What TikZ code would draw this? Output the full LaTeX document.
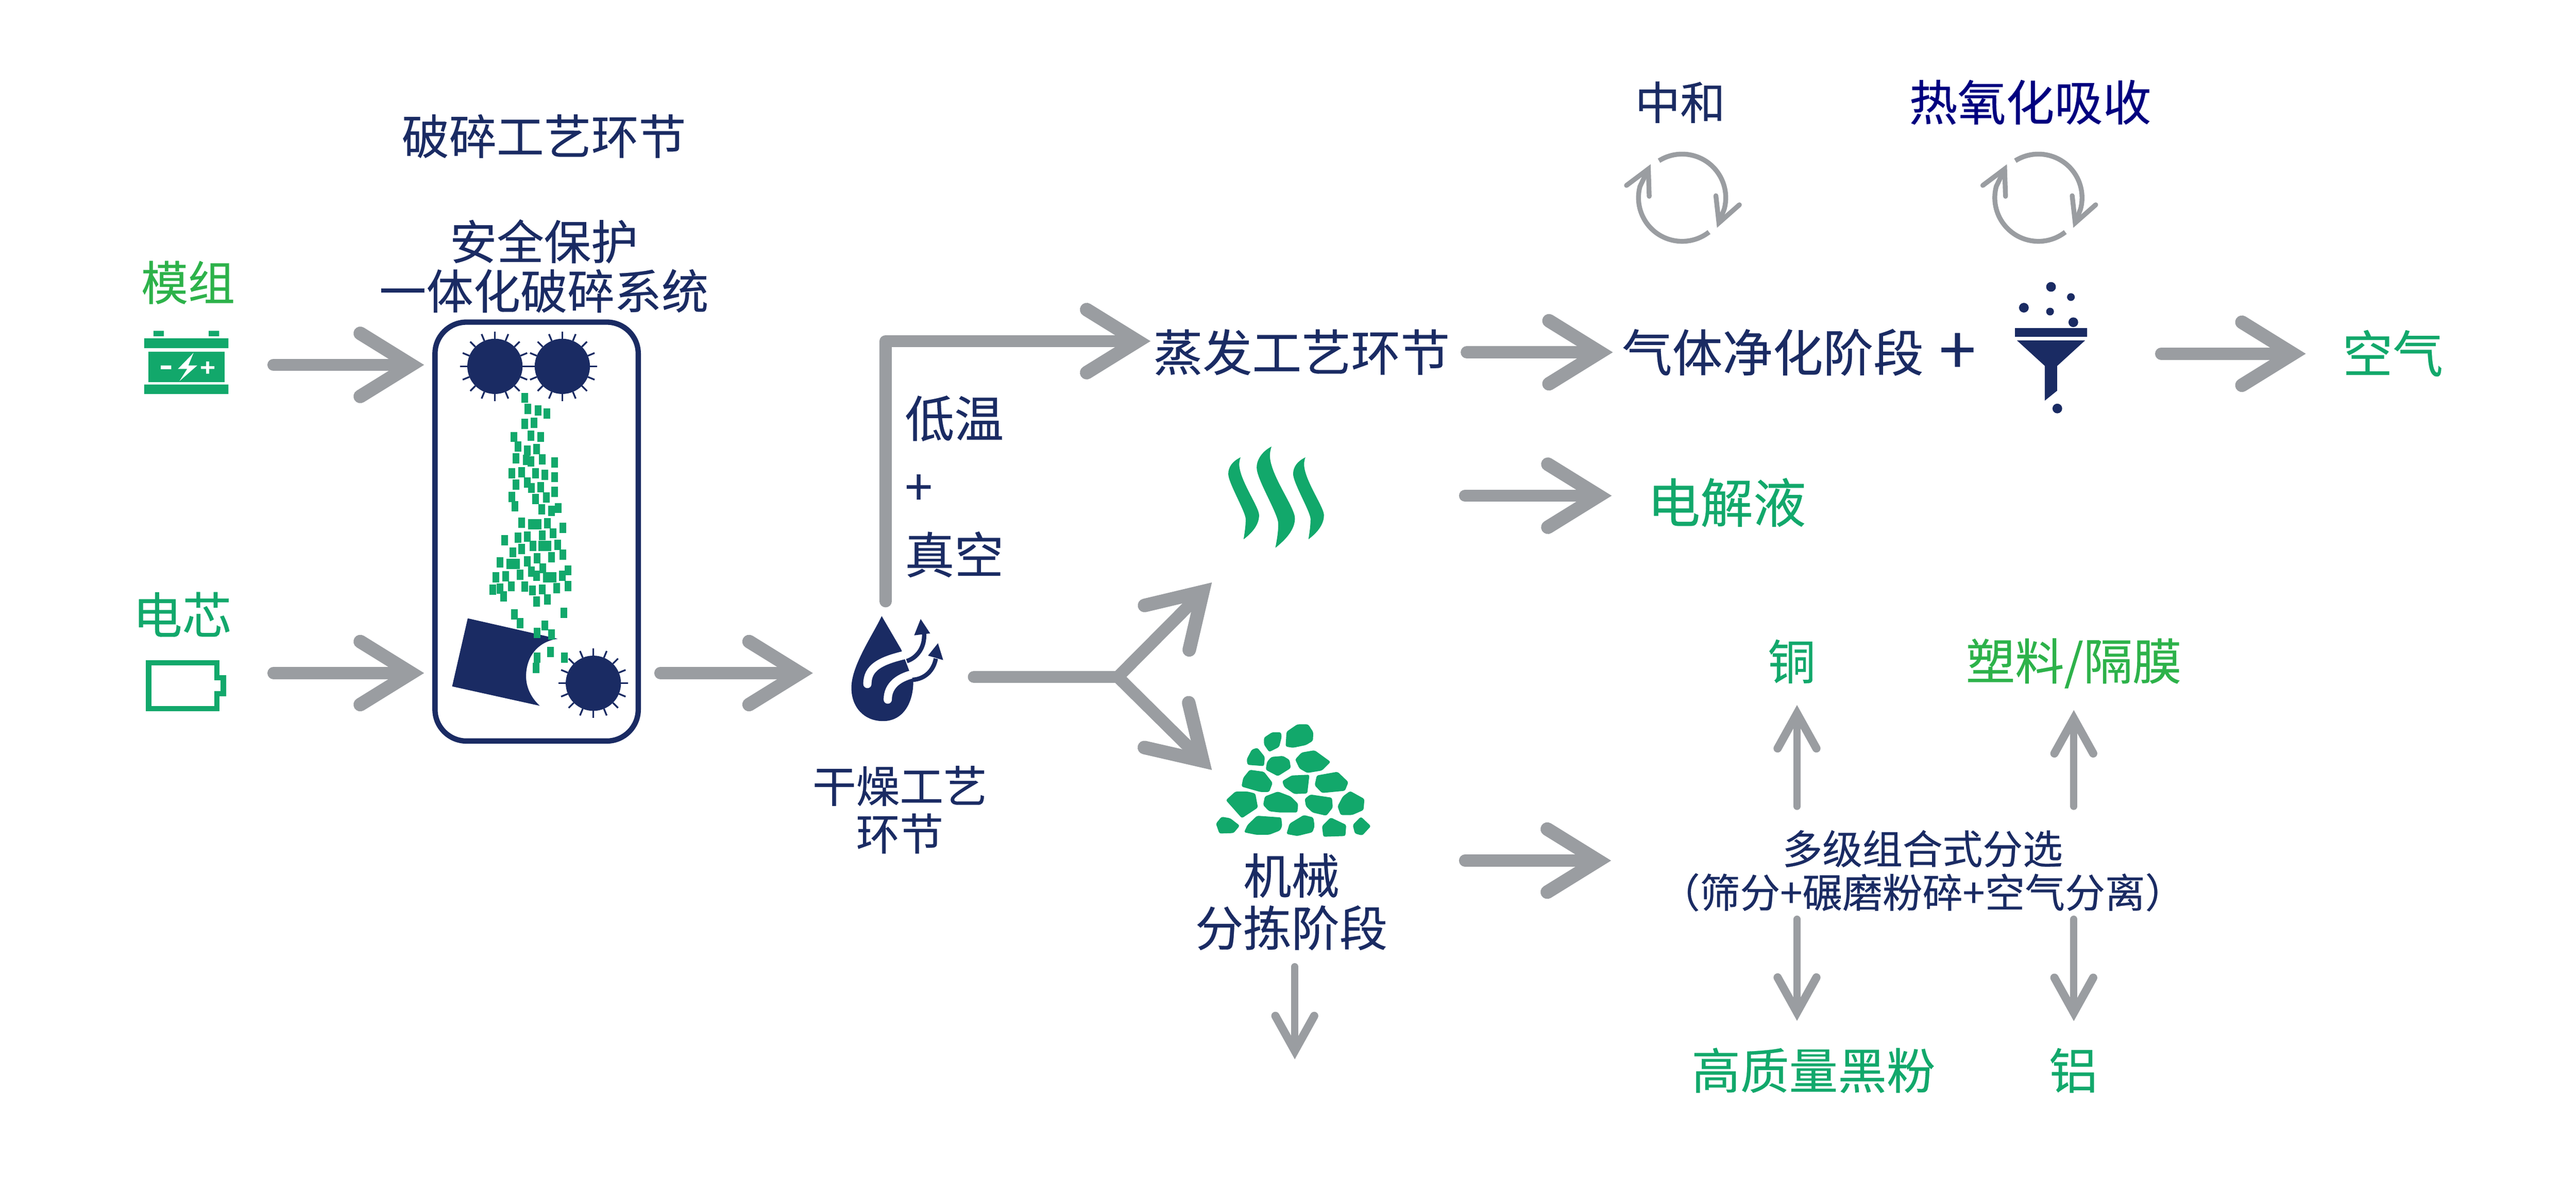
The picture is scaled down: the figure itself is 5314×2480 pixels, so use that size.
\documentclass[tikz,border=0pt]{standalone}
\usepackage{fontspec}
\setmainfont[FakeBold=0.35]{Noto Sans CJK SC}
\usetikzlibrary{arrows.meta}
\definecolor{navy}{HTML}{1A2B63}
\definecolor{deepblue}{HTML}{00007F}
\definecolor{leaf}{HTML}{12A86B}
\definecolor{grass}{HTML}{2DB24A}
\definecolor{steel}{HTML}{9A9DA1}
\newcommand{\fz}[2]{\fontsize{#1}{#2}\selectfont}

\begin{document}
\begin{tikzpicture}[x=0.01cm,y=-0.01cm,
    navy node/.style={text=navy,inner sep=0pt,align=center},
    leaf node/.style={text=leaf,inner sep=0pt,align=center},
    grass node/.style={text=grass,inner sep=0pt,align=center},
    flow/.style={->,>={Straight Barb[length=1.05cm,width=1.3cm,line width=0.28cm,line cap=round,line join=miter]},color=steel,line width=0.25cm,line cap=round,line join=round},
    fine/.style={->,>={Straight Barb[length=0.72cm,width=0.8cm,line width=0.17cm,line cap=round,line join=miter]},color=steel,line width=0.15cm,line cap=round},
    turn/.style={->,>={Straight Barb[length=0.5cm,width=0.52cm,line cap=round,line join=miter]},color=steel,line width=0.1cm}]

    \useasboundingbox (0,0) rectangle (5314,2480);

    \node[navy node,font=\fz{27.8pt}{30pt}] (title) at (1122,281) {破碎工艺环节};
    \node[navy node,font=\fz{27.6pt}{29pt}] (safe) at (1122,549) {安全保护\\一体化破碎系统};
    \node[grass node,font=\fz{27.5pt}{30pt}] (module) at (388,583) {模组};
    \node[leaf node,font=\fz{29pt}{30pt}] (cell) at (376,1268) {电芯};
    \node[draw=navy,line width=0.11cm,rounded corners=0.65cm,minimum width=4.19cm,minimum height=8.64cm,inner sep=0pt] (crushbox) at (1107,1097) {};
    \node[navy node,font=\fz{25.6pt}{28pt}] (dry) at (1856,1671) {干燥工艺\\环节};
    \node[navy node,font=\fz{29pt}{40pt},align=left,anchor=west] (vacuum) at (1866,1004) {低温\\+\\真空};
    \node[navy node,font=\fz{29pt}{30pt}] (evap) at (2685,727) {蒸发工艺环节};
    \node[navy node,font=\fz{29.5pt}{30pt}] (gas) at (3657,727) {气体净化阶段};
    \node[navy node,font=\fz{39pt}{40pt}] (plus) at (4038,730) {+};
    \node[leaf node,font=\fz{29.5pt}{30pt}] (air) at (4936,729) {空气};
    \node[leaf node,font=\fz{31pt}{32pt}] (liquid) at (3562,1037) {电解液};
    \node[navy node,font=\fz{26.5pt}{30pt}] (neutral) at (3466,211) {中和};
    \node[text=deepblue,inner sep=0pt,font=\fz{28.4pt}{30pt}] (oxid) at (4188,211) {热氧化吸收};
    \node[navy node,font=\fz{28.2pt}{30.7pt}] (sort) at (2664,1861) {机械\\分拣阶段};
    \node[leaf node,font=\fz{28pt}{30pt}] (copper) at (3696,1365) {铜};
    \node[grass node,font=\fz{28.8pt}{30pt}] (plastic) at (4278,1369) {塑料/隔膜};
    \node[navy node,font=\fz{23.5pt}{25.6pt}] (sep) at (3966,1797) {多级组合式分选\\（筛分+碾磨粉碎+空气分离）};
    \node[leaf node,font=\fz{28.6pt}{30pt}] (powder) at (3741,2209) {高质量黑粉};
    \node[leaf node,font=\fz{28.6pt}{30pt}] (alu) at (4277,2209) {铝};

    \coordinate (modicon) at (340,753);
    \coordinate (cellicon) at (340,1389);
    \coordinate (dryicon) at (1827,1389);
    \coordinate (fork) at (2306,1397);
    \coordinate (forkup) at (2500,1202);
    \coordinate (forkdown) at (2500,1589);
    \coordinate (steam) at (2630,1023);
    \coordinate (rubble) at (2664,1776);
    \coordinate (filter) at (4240,730);
    \coordinate (cutail) at (3707,1664);
    \coordinate (pltail) at (4278,1664);
    \coordinate (pwtail) at (3707,1897);
    \coordinate (altail) at (4278,1897);
    \coordinate (sorttail) at (2671,1995);
    \coordinate (sorttip) at (2671,2186);

    \path[flow]
        (modicon) edge[shorten <=2.24cm,shorten >=0.17cm] (crushbox.west |- modicon)
        (cellicon) edge[shorten <=2.24cm,shorten >=0.17cm] (crushbox.west |- cellicon)
        (crushbox.east |- dryicon) edge[shorten <=0.4cm,shorten >=1.5cm] (dryicon)
        (evap.east) edge[shorten <=0.34cm,shorten >=0.18cm] (gas.west)
        (steam) edge[shorten <=3.92cm,shorten >=0.73cm] (steam -| liquid.west)
        (filter) edge[shorten <=2.18cm,shorten >=0.75cm] (filter -| air.west)
        (rubble) edge[shorten <=3.58cm,shorten >=1cm] (rubble -| sep.west)
        (fork) edge (forkup)
        (fork) edge (forkdown)
        ;
    \draw[flow,-] (2009,1397) -- (fork);
    \draw[flow,shorten <=1.48cm,shorten >=0.05cm] (dryicon) |- ([yshift=0.23cm]evap.west);

    \path[fine]
        (cutail) edge[shorten >=0.44cm] (cutail |- copper.south)
        (pltail) edge[shorten >=0.44cm] (pltail |- plastic.south)
        (pwtail) edge[shorten >=0.55cm] (pwtail |- powder.north)
        (altail) edge[shorten >=0.55cm] (altail |- alu.north)
        (sorttail) edge (sorttip)
        ;

    \foreach \cx in {3470,4205} {
        \draw[turn] (\cx,408) ++(-122:90) arc[start angle=-122,end angle=15,radius=90] -- (\cx+72,470);
        \draw[turn] (\cx,408) ++(52:90) arc[start angle=52,end angle=195,radius=90] -- (\cx-65,339);
    }

    \foreach \cx/\cy in {1021/756,1160/756,1224/1410} {
        \fill[navy] (\cx,\cy) circle (57);
        \foreach \a in {0,22.5,...,340}
            \draw[navy,line width=1pt] (\cx,\cy) ++(\a:57) -- ++(\a:15);
    }

    \begin{scope}[shift={(200,500)},x=0.007653cm,y=-0.007015cm]
        \fill[leaf] (152,260) rectangle (180,276) (301,260) rectangle (329,276)
            (127,282) rectangle (354,311) (127,418) rectangle (354,446);
        \fill[leaf] (138,321) rectangle (344,411);
        \fill[white] (260,325) -- (218,372) -- (243,372) -- (222,408) -- (270,362) -- (246,362) -- cycle;
        \fill[white] (172,362) rectangle (200,373) (280,364) rectangle (316,372) (294,350) rectangle (302,386);
        \draw[leaf,line width=0.11cm] (139,1236) -- (323,1236) -- (323,1280) -- (340,1280) -- (340,1326) -- (323,1326) -- (323,1370) -- (139,1370) -- cycle;
        \fill[navy] (998,1105) -- (1240,1165) .. controls (1180,1175) and (1155,1225) .. (1155,1275) .. controls (1155,1310) and (1170,1340) .. (1192,1362) -- (956,1305) -- cycle;
        \foreach \p/\q in {1151/457,1160/490,1187/494,1211/503,1151/533,1176/530,1122/572,1168/568,1194/572,1134/600,1158/612,1183/608,1128/635,1155/640,1168/644,1198/638,1232/647,1117/679,1143/676,1180/679,1206/683,1232/690,1128/712,1158/706,1170/722,1194/720,1232/733,1117/748,1125/775,1180/755,1210/750,1197/785,1223/789,1241/781,1143/824,1170/828,1188/828,1213/825,1254/839,1198/861,1228/855,1097/876,1133/868,1158/865,1173/892,1197/892,1214/892,1240/889,1119/911,1143/901,1254/918,1085/941,1111/945,1129/945,1158/938,1185/929,1223/925,1170/968,1200/958,1268/964,1074/985,1100/981,1139/977,1183/980,1210/984,1227/984,1252/980,1065/1021,1085/1018,1115/1011,1151/1012,1172/1023,1198/1020,1237/1016,1268/1010,1095/1041,1183/1056,1213/1050,1124/1094,1139/1119,1257/1089,1205/1126,1184/1148,1224/1152,1185/1220,1221/1204,1258/1220,1182/1251}
            \fill[leaf] (\p-9,\q-15) rectangle (\p+9,\q+15);
    \end{scope}

    \begin{scope}[shift={(1600,1200)},x=0.008929cm,y=-0.005102cm]
        \fill[navy] (245,140) .. controls (225,215) and (175,340) .. (175,430) .. controls (175,510) and (205,565) .. (248,565) .. controls (295,565) and (318,490) .. (318,405) -- (290,275) -- cycle;
        \draw[white,line width=0.17cm,line cap=round] (212,415) .. controls (212,350) and (240,320) .. (305,295);
        \draw[white,line width=0.17cm,line cap=round] (259,478) .. controls (259,420) and (285,385) .. (325,372);
        \draw[navy,line width=0.09cm] (343,210) .. controls (345,270) and (325,310) .. (303,322);
        \draw[navy,line width=0.09cm] (370,312) .. controls (365,360) and (345,395) .. (316,398);
        \fill[navy] (335,152) -- (357,210) -- (320,218) -- cycle;
        \fill[navy] (375,250) -- (387,318) -- (352,300) -- cycle;
        \fill[leaf,rounded corners=1pt]
            (1128,632) -- (1147,610) -- (1167,610) -- (1169,628) -- (1163,670) -- (1140,690) -- (1128,660) -- cycle
            (1180,608) -- (1205,578) -- (1230,578) -- (1242,610) -- (1241,645) -- (1225,662) -- (1195,673) -- (1178,668) -- cycle
            (1100,680) -- (1113,673) -- (1130,710) -- (1128,747) -- (1090,742) -- (1088,720) -- cycle
            (1145,710) -- (1172,706) -- (1187,722) -- (1190,755) -- (1160,788) -- (1132,762) -- (1135,730) -- cycle
            (1215,692) -- (1245,683) -- (1282,730) -- (1262,765) -- (1228,775) -- (1210,757) -- (1200,720) -- cycle
            (1095,762) -- (1128,770) -- (1148,815) -- (1140,852) -- (1120,852) -- (1076,830) -- (1080,795) -- cycle
            (1192,785) -- (1233,782) -- (1228,858) -- (1198,860) -- (1175,832) -- (1170,808) -- cycle
            (1250,785) -- (1298,770) -- (1323,812) -- (1315,847) -- (1262,856) -- (1245,825) -- cycle
            (1062,850) -- (1090,850) -- (1108,858) -- (1114,915) -- (1077,958) -- (1040,885) -- cycle
            (1160,850) -- (1190,870) -- (1207,900) -- (1205,935) -- (1165,935) -- (1140,930) -- (1126,905) -- (1130,870) -- cycle
            (1235,862) -- (1285,875) -- (1287,915) -- (1272,948) -- (1240,935) -- (1225,910) -- (1222,880) -- cycle
            (1327,848) -- (1360,880) -- (1358,925) -- (1332,945) -- (1305,945) -- (1298,910) -- (1310,870) -- cycle
            (1030,952) -- (1050,958) -- (1072,988) -- (1058,1018) -- (1025,1020) -- (1017,980) -- cycle
            (1112,948) -- (1168,955) -- (1170,990) -- (1165,1008) -- (1140,1025) -- (1110,1025) -- (1082,1015) -- (1090,985) -- cycle
            (1220,945) -- (1242,955) -- (1245,990) -- (1240,1015) -- (1205,1030) -- (1180,1022) -- (1187,980) -- cycle
            (1282,955) -- (1318,985) -- (1316,1030) -- (1265,1033) -- (1262,990) -- cycle
            (1352,952) -- (1375,990) -- (1355,1028) -- (1338,1020) -- (1333,985) -- cycle;
    \end{scope}

    \begin{scope}[shift={(3200,100)},x=0.01148cm,y=-0.005102cm]
        \fill[navy] (833,1132) rectangle (963,1166);
        \fill[navy] (837,1182) -- (959,1182) -- (909,1285) -- (909,1385) -- (887,1425) -- (887,1285) -- cycle;
    \end{scope}
    \foreach \dx/\dy/\dr in {4231/592/10,4272/613/8,4175/635/10,4229/643/8,4277/665/10,4244/843/10}
        \fill[navy] (\dx,\dy) circle (\dr);

    \begin{scope}[shift={(2400,850)},x=0.003333cm,y=-0.003333cm]
        \foreach \s in {0,402}
            \fill[leaf,xshift=\s*0.003333cm] (478,282) .. controls (430,305) and (402,340) .. (402,385) .. controls (402,440) and (510,620) .. (510,665) .. controls (510,710) and (503,750) .. (497,790) .. controls (550,750) and (593,700) .. (593,640) .. controls (593,590) and (470,420) .. (470,325) .. controls (470,310) and (473,295) .. (478,282) -- cycle;
        \fill[leaf] (670,215) .. controls (620,240) and (578,290) .. (578,345) .. controls (578,420) and (712,630) .. (712,695) .. controls (712,745) and (703,795) .. (694,843) .. controls (760,790) and (815,730) .. (815,660) .. controls (815,590) and (660,390) .. (660,270) .. controls (660,250) and (665,230) .. (670,215) -- cycle;
    \end{scope}
\end{tikzpicture}
\end{document}
